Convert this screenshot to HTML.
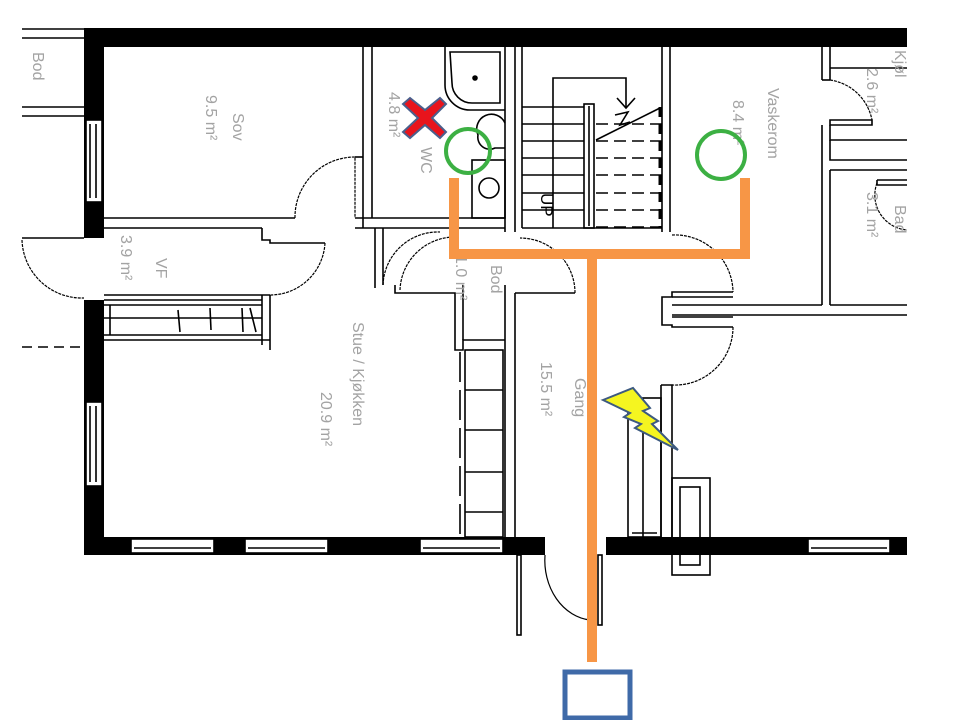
<!DOCTYPE html>
<html><head><meta charset="utf-8"><style>
html,body{margin:0;padding:0;background:#fff;}
svg{display:block;}
.t{font-family:"Liberation Sans",sans-serif;font-size:16px;fill:#a3a3a3;}
</style></head><body>
<svg width="960" height="720" viewBox="0 0 960 720" xmlns="http://www.w3.org/2000/svg">
<defs><clipPath id="c"><rect x="0" y="0" width="907" height="720"/></clipPath></defs>
<g clip-path="url(#c)" fill="none" stroke="#000" stroke-width="1.6">
<line x1="22" y1="29" x2="84" y2="29"/><line x1="22" y1="38" x2="84" y2="38"/>
<line x1="22" y1="107" x2="84" y2="107"/><line x1="22" y1="116" x2="84" y2="116"/>
<line x1="22" y1="238" x2="84" y2="238"/>
<line x1="22" y1="347" x2="84" y2="347" stroke-dasharray="10,6"/>
<path d="M22,240 A60,60 0 0 0 84,298" stroke-dasharray="3,1" stroke-width="1.2"/>
<g fill="#000" stroke="none">
<rect x="84" y="28" width="823" height="19"/>
<rect x="84" y="28" width="20" height="210"/>
<rect x="84" y="300" width="20" height="255"/>
<rect x="84" y="537" width="461" height="18"/>
<rect x="606" y="537" width="301" height="18"/>
</g>
<g fill="#fff">
<rect x="86" y="120" width="16" height="82"/><line x1="90" y1="124" x2="90" y2="198"/><line x1="96" y1="124" x2="96" y2="198"/>
<rect x="86" y="402" width="16" height="84"/><line x1="90" y1="406" x2="90" y2="482"/><line x1="96" y1="406" x2="96" y2="482"/>
<rect x="131" y="539" width="83" height="14"/><line x1="134" y1="548" x2="211" y2="548"/>
<rect x="245" y="539" width="83" height="14"/><line x1="248" y1="548" x2="325" y2="548"/>
<rect x="420" y="539" width="83" height="14"/><line x1="423" y1="548" x2="500" y2="548"/>
<rect x="808" y="539" width="82" height="14"/><line x1="811" y1="548" x2="887" y2="548"/>
</g>
<line x1="104" y1="218" x2="295" y2="218"/><line x1="104" y1="228" x2="262" y2="228"/>
<path d="M262,228 V240 H270 V243 H325"/>
<path d="M295,218 A60,60 0 0 1 355,157 V218" stroke-dasharray="3,1" stroke-width="1.2"/>
<line x1="355" y1="157" x2="363" y2="157"/>
<path d="M325,243 A55,55 0 0 1 270,295" stroke-dasharray="3,1" stroke-width="1.2"/>
<line x1="363" y1="47" x2="363" y2="218"/><line x1="372" y1="47" x2="372" y2="218"/>
<line x1="355" y1="218" x2="505" y2="218"/><line x1="355" y1="228" x2="505" y2="228"/>
<line x1="363" y1="218" x2="363" y2="228"/>
<line x1="104" y1="295" x2="270" y2="295"/><line x1="104" y1="300" x2="262" y2="300"/>
<line x1="262" y1="295" x2="262" y2="345"/><line x1="270" y1="295" x2="270" y2="350"/>
<line x1="104" y1="305" x2="262" y2="305"/><line x1="104" y1="318" x2="262" y2="318"/><line x1="104" y1="335" x2="262" y2="335"/>
<line x1="104" y1="340" x2="270" y2="340"/>
<line x1="110" y1="305" x2="110" y2="335"/><line x1="178" y1="310" x2="180" y2="332"/><line x1="210" y1="308" x2="211" y2="330"/><line x1="242" y1="308" x2="243" y2="332"/><line x1="250" y1="308" x2="256" y2="332"/>
<line x1="375" y1="228" x2="375" y2="288"/><line x1="383" y1="228" x2="383" y2="285"/>
<path d="M383,285 A55,55 0 0 1 440,232" stroke-dasharray="3,1" stroke-width="1.2"/>
<path d="M400,290 A55,55 0 0 1 455,237" stroke-dasharray="3,1" stroke-width="1.2"/>
<path d="M395,285 V293 H455 V350 H463 V340 H505"/>
<line x1="463" y1="285" x2="463" y2="340"/>
<line x1="505" y1="293" x2="505" y2="537"/><line x1="515" y1="293" x2="515" y2="537"/>
<line x1="515" y1="293" x2="575" y2="293"/><line x1="505" y1="293" x2="505" y2="285"/>
<path d="M575,293 A55,55 0 0 0 520,238" stroke-dasharray="3,1" stroke-width="1.2"/>
<rect x="465" y="350" width="38" height="187"/>
<line x1="465" y1="390" x2="503" y2="390"/><line x1="465" y1="430" x2="503" y2="430"/><line x1="465" y1="472" x2="503" y2="472"/><line x1="465" y1="512" x2="503" y2="512"/>
<line x1="460" y1="352" x2="460" y2="535" stroke-dasharray="30,8"/>
<path d="M445,47 V85 A25,25 0 0 0 470,110 H505"/>
<path d="M450,52 H500 V103 H472 A20,20 0 0 1 452,83 Z"/>
<circle cx="475" cy="78" r="2" fill="#000"/>
<path d="M505,123 A14,14 0 0 0 478,135 A12,12 0 0 0 495,148 H505"/>
<rect x="472" y="160" width="33" height="58"/>
<circle cx="489" cy="188" r="10"/>
<line x1="505" y1="47" x2="505" y2="232"/><line x1="515" y1="47" x2="515" y2="232"/>
<line x1="522" y1="47" x2="522" y2="228"/>
<line x1="662" y1="47" x2="662" y2="232"/><line x1="670" y1="47" x2="670" y2="232"/>
<line x1="522" y1="228" x2="662" y2="228"/>
<g>
<line x1="522" y1="107" x2="584" y2="107"/><line x1="522" y1="124" x2="584" y2="124"/><line x1="522" y1="141" x2="584" y2="141"/><line x1="522" y1="158" x2="584" y2="158"/><line x1="522" y1="175" x2="584" y2="175"/><line x1="522" y1="193" x2="584" y2="193"/><line x1="522" y1="210" x2="584" y2="210"/>
</g>
<g stroke-dasharray="12,6">
<line x1="596" y1="124" x2="662" y2="124"/><line x1="596" y1="141" x2="662" y2="141"/><line x1="596" y1="158" x2="662" y2="158"/><line x1="596" y1="175" x2="662" y2="175"/><line x1="596" y1="193" x2="662" y2="193"/><line x1="596" y1="210" x2="662" y2="210"/><line x1="596" y1="227" x2="662" y2="227"/>
</g>
<line x1="660" y1="107" x2="660" y2="228" stroke-width="3" stroke-dasharray="10,7"/>
<rect x="584" y="104" width="10" height="124"/><line x1="589" y1="106" x2="589" y2="226"/>
<path d="M553,228 V78 H626 V108"/>
<path d="M617,98 L626,108 L635,98"/>
<path d="M596,140 L660,108"/>
<path d="M615,115 L628,112 L620,125 L630,122"/>
<line x1="822" y1="47" x2="822" y2="80"/><line x1="830" y1="47" x2="830" y2="80"/>
<line x1="822" y1="80" x2="830" y2="80"/>
<line x1="830" y1="68" x2="907" y2="68"/>
<path d="M830,80 A50,50 0 0 1 872,120" stroke-dasharray="3,1" stroke-width="1.2"/>
<path d="M872,120 H830 V125 H872 Z"/>
<path d="M822,125 V305"/><path d="M830,125 V140 H907"/><path d="M830,140 V160 H907"/>
<path d="M830,170 H907"/><path d="M830,170 V305"/>
<path d="M877,180 H907 M877,185 H907 M877,180 V185"/>
<path d="M877,183 A35,35 0 0 0 907,230" stroke-dasharray="3,1" stroke-width="1.2"/>
<line x1="672" y1="305" x2="822" y2="305"/><line x1="830" y1="305" x2="907" y2="305"/>
<line x1="672" y1="315" x2="907" y2="315"/>
<path d="M733,292 H672 V297 H662 V325 H672 V327 H733"/>
<line x1="672" y1="297" x2="733" y2="297"/><line x1="672" y1="317" x2="733" y2="317"/>
<path d="M672,235 A58,58 0 0 1 733,292" stroke-dasharray="3,1" stroke-width="1.2"/>
<path d="M733,327 A58,58 0 0 1 672,385" stroke-dasharray="3,1" stroke-width="1.2"/>
<path d="M661,385 H672 V537 M661,385 V537"/>
<rect x="628" y="398" width="33" height="139"/><line x1="643" y1="398" x2="643" y2="537"/>
<line x1="632" y1="533" x2="657" y2="533"/>
<rect x="672" y="478" width="38" height="97"/><rect x="680" y="487" width="20" height="78"/>
<rect x="517" y="555" width="4" height="80"/>
<path d="M545,555 A50,60 0 0 0 590,620" stroke-width="1.2"/>
<rect x="598" y="555" width="4" height="70"/>
</g>
<g class="t">
<text transform="translate(33,52) rotate(90)">Bod</text>
<text transform="translate(233,113) rotate(90)">Sov</text>
<text transform="translate(206,95) rotate(90)">9.5 m²</text>
<text transform="translate(389,92) rotate(90)">4.8 m²</text>
<text transform="translate(421,147) rotate(90)">WC</text>
<text transform="translate(121,235) rotate(90)">3.9 m²</text>
<text transform="translate(156,258) rotate(90)">VF</text>
<text transform="translate(353,322) rotate(90)">Stue / Kjøkken</text>
<text transform="translate(321,392) rotate(90)">20.9 m²</text>
<text transform="translate(456,255) rotate(90)">1.0 m²</text>
<text transform="translate(491,265) rotate(90)">Bod</text>
<text transform="translate(575,378) rotate(90)">Gang</text>
<text transform="translate(541,362) rotate(90)">15.5 m²</text>
<text transform="translate(768,88) rotate(90)">Vaskerom</text>
<text transform="translate(733,100) rotate(90)">8.4 m²</text>
<text transform="translate(867,68) rotate(90)">2.6 m²</text>
<text transform="translate(867,192) rotate(90)">3.1 m²</text>
<text transform="translate(895,50) rotate(90)">Kjøl</text>
<text transform="translate(895,205) rotate(90)">Bad</text>
</g>
<text transform="translate(541,193) rotate(90)" font-family="Liberation Sans,sans-serif" font-size="17" fill="#000">UP</text>
<g stroke="#f79646" stroke-width="10" fill="none">
<path d="M454,178 V254 H745 V178"/>
<line x1="592" y1="254" x2="592" y2="662"/>
</g>
<circle cx="468" cy="151" r="22" fill="none" stroke="#3cb043" stroke-width="4"/>
<circle cx="721" cy="155" r="24" fill="none" stroke="#3cb043" stroke-width="4"/>
<path d="M410,98 L425,110 L440,98 L446,104 L432,118 L446,132 L440,138 L425,125 L410,138 L403,132 L418,118 L403,104 Z" fill="#e8141c" stroke="#4a5f8c" stroke-width="2"/>
<path d="M603,400 L633,388 L650,408 L643,411 L658,421 L652,424 L678,450 L635,428 L641,424 L624,417 L630,413 Z" fill="#f5f520" stroke="#3d5a80" stroke-width="2"/>
<rect x="565" y="672" width="65" height="46" fill="#fff" stroke="#3f6aa8" stroke-width="5"/>
</svg>
</body></html>
